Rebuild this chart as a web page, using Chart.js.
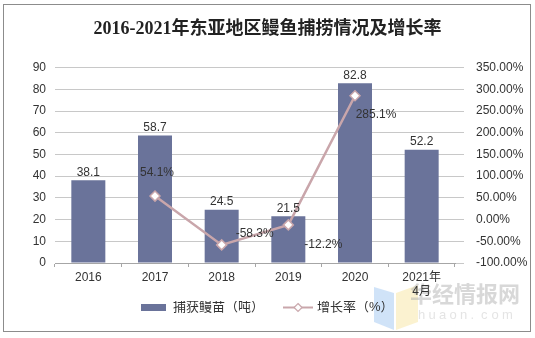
<!DOCTYPE html>
<html>
<head>
<meta charset="utf-8">
<script src="https://cdn.jsdelivr.net/npm/chart.js@4/dist/chart.umd.min.js"></script>
<style>
  html, body { margin: 0; padding: 0; background: #fff; }
  #box { width: 535px; height: 338px; }
</style>
</head>
<body>
<div id="box"><canvas id="myChart" width="535" height="338"></canvas></div>
<script>
let years = ["2016", "2017", "2018", "2019", "2020", ["2021年", "4月"]];
let catch_t = [38.1, 58.7, 24.5, 21.5, 82.8, 52.2];
let growth = [null, 54.1, -58.3, -12.2, 285.1, null];

let barColor = "#6a739a";
let lineColor = "#c9a6ab";
let font = "'Liberation Sans', Arial, 'Noto Sans CJK SC', sans-serif";

// where the growth labels sit next to their point
let growthLabelShift = [null, [2, -23], [33, -11], [35, 20], [21, 19], null];

// legend icons
let barIcon = document.createElement("canvas");
barIcon.width = 25;
barIcon.height = 7;
let bctx = barIcon.getContext("2d");
bctx.fillStyle = barColor;
bctx.fillRect(0, 0, 25, 7);

let lineIcon = document.createElement("canvas");
lineIcon.width = 30;
lineIcon.height = 11;
let lctx = lineIcon.getContext("2d");
lctx.strokeStyle = lineColor;
lctx.lineWidth = 2;
lctx.beginPath();
lctx.moveTo(0, 5.5);
lctx.lineTo(30, 5.5);
lctx.stroke();
lctx.fillStyle = "#fff";
lctx.lineWidth = 1.2;
lctx.beginPath();
lctx.moveTo(15, 1.5);
lctx.lineTo(19, 5.5);
lctx.lineTo(15, 9.5);
lctx.lineTo(11, 5.5);
lctx.closePath();
lctx.fill();
lctx.stroke();

const valueLabels = {
  id: "valueLabels",
  afterDatasetsDraw(chart) {
    const ctx = chart.ctx;
    ctx.save();
    ctx.font = "12px " + font;
    ctx.fillStyle = "#333";
    ctx.textAlign = "center";
    chart.getDatasetMeta(0).data.forEach((bar, i) => {
      ctx.textBaseline = "bottom";
      ctx.fillText(catch_t[i].toFixed(1), bar.x, bar.y - 2);
    });
    chart.getDatasetMeta(1).data.forEach((pt, i) => {
      if (growth[i] === null) return;
      const s = growthLabelShift[i];
      ctx.textBaseline = "middle";
      ctx.fillText(growth[i].toFixed(1) + "%", pt.x + s[0], pt.y + s[1]);
    });
    ctx.restore();
  },
};

const frame = {
  id: "frame",
  beforeDraw(chart) {
    // faint watermark under everything
    const ctx = chart.ctx;
    ctx.save();
    ctx.globalAlpha = 0.4;
    ctx.fillStyle = "#8ab8ee";
    ctx.beginPath();
    ctx.moveTo(374, 287); ctx.lineTo(394, 293); ctx.lineTo(394, 330); ctx.lineTo(374, 322);
    ctx.closePath(); ctx.fill();
    ctx.fillStyle = "#f5de8a";
    ctx.beginPath();
    ctx.moveTo(396, 293); ctx.lineTo(418, 285); ctx.lineTo(418, 322); ctx.lineTo(396, 330);
    ctx.closePath(); ctx.fill();
    ctx.globalAlpha = 0.45;
    ctx.fillStyle = "#a8a8a8";
    ctx.font = "bold 22px 'Noto Sans CJK SC', sans-serif";
    ctx.textAlign = "left";
    ctx.textBaseline = "middle";
    ctx.fillText("华经情报网", 410, 294);
    ctx.font = "13px " + font;
    ctx.fillStyle = "#c4c4c4";
    let wm = "huaon.com";
    for (let k = 0; k < wm.length; k++) ctx.fillText(wm[k], 418 + k * 10.5, 315);
    ctx.restore();
  },
  afterDraw(chart) {
    const ctx = chart.ctx;
    ctx.save();
    ctx.strokeStyle = "#8c8c8c";
    ctx.lineWidth = 1;
    ctx.strokeRect(3.5, 4.5, 527, 327);
    ctx.restore();
  },
};

const data = {
  labels: [...years],
  datasets: [
    {
      type: "bar",
      label: "捕获鳗苗（吨）",
      data: [...catch_t],
      backgroundColor: barColor,
      yAxisID: "y",
      order: 1,
      barPercentage: 0.51,
      categoryPercentage: 1,
    },
    {
      type: "line",
      label: "增长率（%）",
      data: [...growth],
      borderColor: lineColor,
      borderWidth: 2.5,
      pointStyle: "rectRot",
      pointRadius: 5,
      pointBorderWidth: 1.5,
      pointBackgroundColor: "#fff",
      pointBorderColor: lineColor,
      yAxisID: "y1",
      order: 0,
      spanGaps: false,
    },
  ],
};

const config = {
  type: "bar",
  data: data,
  options: {
    responsive: false,
    maintainAspectRatio: false,
    animation: false,
    layout: { padding: { left: 0, right: 0, top: 0, bottom: 14 } },
    plugins: {
      title: {
        display: true,
        text: "2016-2021年东亚地区鳗鱼捕捞情况及增长率",
        color: "#222",
        font: { family: "'Liberation Serif', 'Noto Sans CJK SC', serif", size: 18, weight: "bold" },
        padding: { top: 19, bottom: 27 },
      },
      legend: {
        display: true,
        position: "bottom",
        labels: {
          usePointStyle: true,
          pointStyleWidth: 25,
          color: "#333",
          font: { family: font, size: 13 },
          padding: 0,
          generateLabels(chart) {
            const items = Chart.defaults.plugins.legend.labels.generateLabels(chart);
            items.sort((a, b) => a.datasetIndex - b.datasetIndex);
            items[0].pointStyle = barIcon;
            items[1].pointStyle = lineIcon;
            items[0].text = items[0].text + "      ";
            return items;
          },
        },
      },
      tooltip: { enabled: false },
    },
    scales: {
      x: {
        offset: true,
        border: { display: true, color: "#a6a6a6" },
        grid: { offset: true, drawOnChartArea: false, drawTicks: true, tickLength: 4, color: "#a6a6a6" },
        ticks: { color: "#333", font: { family: font, size: 12 }, padding: 3, maxRotation: 0 },
        afterFit(scale) { scale.height = 38; },
      },
      y: {
        position: "left",
        min: 0,
        max: 90,
        border: { display: false },
        grid: { color: "#c8c8c8", drawTicks: false },
        ticks: { stepSize: 10, color: "#333", font: { family: font, size: 12 }, padding: 9 },
        afterFit(scale) { scale.width = 55; },
      },
      y1: {
        position: "right",
        min: -100,
        max: 350,
        border: { display: false },
        grid: { drawOnChartArea: false, drawTicks: true, tickLength: 9, color: "#c8c8c8" },
        ticks: {
          stepSize: 50,
          color: "#333",
          font: { family: font, size: 12 },
          padding: 12,
          callback: (v) => v.toFixed(2) + "%",
        },
        afterFit(scale) { scale.width = 80; },
      },
    },
  },
  plugins: [valueLabels, frame],
};
var myChart = new Chart(document.getElementById("myChart"), config);
</script>
</body>
</html>
